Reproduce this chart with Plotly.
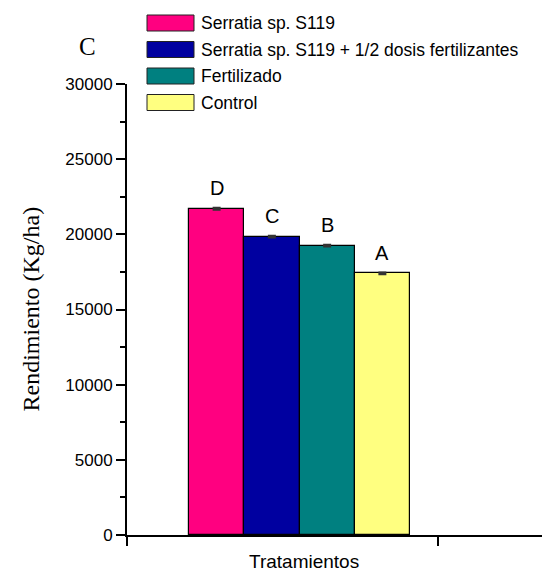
import plotly.graph_objects as go

# Yield per treatment (Kg/ha), with standard error and significance letters
treatments = [
    "Serratia sp. S119",
    "Serratia sp. S119 + 1/2 dosis fertilizantes",
    "Fertilizado",
    "Control",
]
yield_kg_ha = [21700, 19850, 19250, 17400]
yield_err = [60, 60, 60, 60]
letters = ["D", "C", "B", "A"]
colors = ["#FF0080", "#0000A0", "#008080", "#FFFF80"]

y_ticks = [0, 5000, 10000, 15000, 20000, 25000, 30000]

W, H = 542, 572
ML, MR, MT, MB = 127, 0, 84, 37
PW, PH = W - ML - MR, H - MT - MB

SANS = "Liberation Sans, Arial, sans-serif"
SERIF = "Liberation Serif, Times New Roman, serif"

GROUP_X = 0.0          # single treatment group on the x axis
PX_PER_UNIT = 221.0    # pixel width of the whole bar group
x_lo = (ML - 299.5) / PX_PER_UNIT
x_hi = x_lo + PW / PX_PER_UNIT
x_tick_pos = [x_lo, (438 - 299.5) / PX_PER_UNIT]


def px(x):
    return (x - ML) / PW


def py(y):
    return (H - MB - y) / PH


fig = go.Figure()
for name, val, err, col in zip(treatments, yield_kg_ha, yield_err, colors):
    fig.add_trace(go.Bar(
        x=[GROUP_X], y=[val], name=name,
        marker=dict(color=col, line=dict(color="#000000", width=1.2)),
        error_y=dict(type="data", array=[err], visible=True,
                     color="#333333", thickness=2, width=4),
        showlegend=False,
    ))

annotations = []
n = len(treatments)
for i, (val, err, lab) in enumerate(zip(yield_kg_ha, yield_err, letters)):
    xc = GROUP_X - 0.5 + (i + 0.5) / n
    annotations.append(dict(
        x=xc, y=val + err, xref="x", yref="y", text=lab, showarrow=False,
        yanchor="middle", yshift=20, font=dict(family=SANS, size=20, color="#000"),
    ))

# Legend drawn as wide colour boxes with labels
shapes = []
row_y = [23, 49.5, 76, 102.5]
for name, col, ry in zip(treatments, colors, row_y):
    shapes.append(dict(
        type="rect", xref="paper", yref="paper",
        x0=px(147), x1=px(194), y0=py(ry - 8), y1=py(ry + 8),
        fillcolor=col, line=dict(color="#222222", width=1),
    ))
    annotations.append(dict(
        x=px(199), y=py(ry), xref="paper", yref="paper", text=name,
        showarrow=False, xanchor="left", yanchor="middle",
        font=dict(family=SANS, size=17.5, color="#000"),
    ))

# Panel letter, axis titles
annotations.append(dict(
    x=px(87), y=py(46), xref="paper", yref="paper", text="C", showarrow=False,
    xanchor="center", yanchor="middle", font=dict(family=SERIF, size=25, color="#000"),
))
annotations.append(dict(
    x=px(30), y=0.5, xref="paper", yref="paper", text="Rendimiento (Kg/ha)",
    showarrow=False, textangle=-90, xanchor="center", yanchor="middle",
    font=dict(family=SERIF, size=24, color="#000"),
))
annotations.append(dict(
    x=px(304), y=py(561), xref="paper", yref="paper", text="Tratamientos",
    showarrow=False, xanchor="center", yanchor="middle",
    font=dict(family=SANS, size=19, color="#000"),
))

fig.update_layout(
    width=W, height=H,
    margin=dict(l=ML, r=MR, t=MT, b=MB, pad=0),
    paper_bgcolor="white", plot_bgcolor="white",
    barmode="group", bargap=0, bargroupgap=0,
    showlegend=False,
    shapes=shapes, annotations=annotations,
    xaxis=dict(
        range=[x_lo, x_hi], showgrid=False, zeroline=False,
        showline=True, linecolor="#000", linewidth=2,
        tickmode="array", tickvals=x_tick_pos, ticktext=["", ""],
        ticks="outside", ticklen=9, tickwidth=2, tickcolor="#000",
    ),
    yaxis=dict(
        range=[0, 30000], showgrid=False, zeroline=False,
        showline=True, linecolor="#000", linewidth=2,
        tickmode="array", tickvals=y_ticks, ticktext=[str(v) for v in y_ticks],
        ticks="outside", ticklen=9, tickwidth=2, tickcolor="#000",
        minor=dict(dtick=2500, ticks="outside", ticklen=5, tickwidth=2, tickcolor="#000"),
        tickfont=dict(family=SANS, size=17, color="#000"),
    ),
)

fig.write_html("out.html")
